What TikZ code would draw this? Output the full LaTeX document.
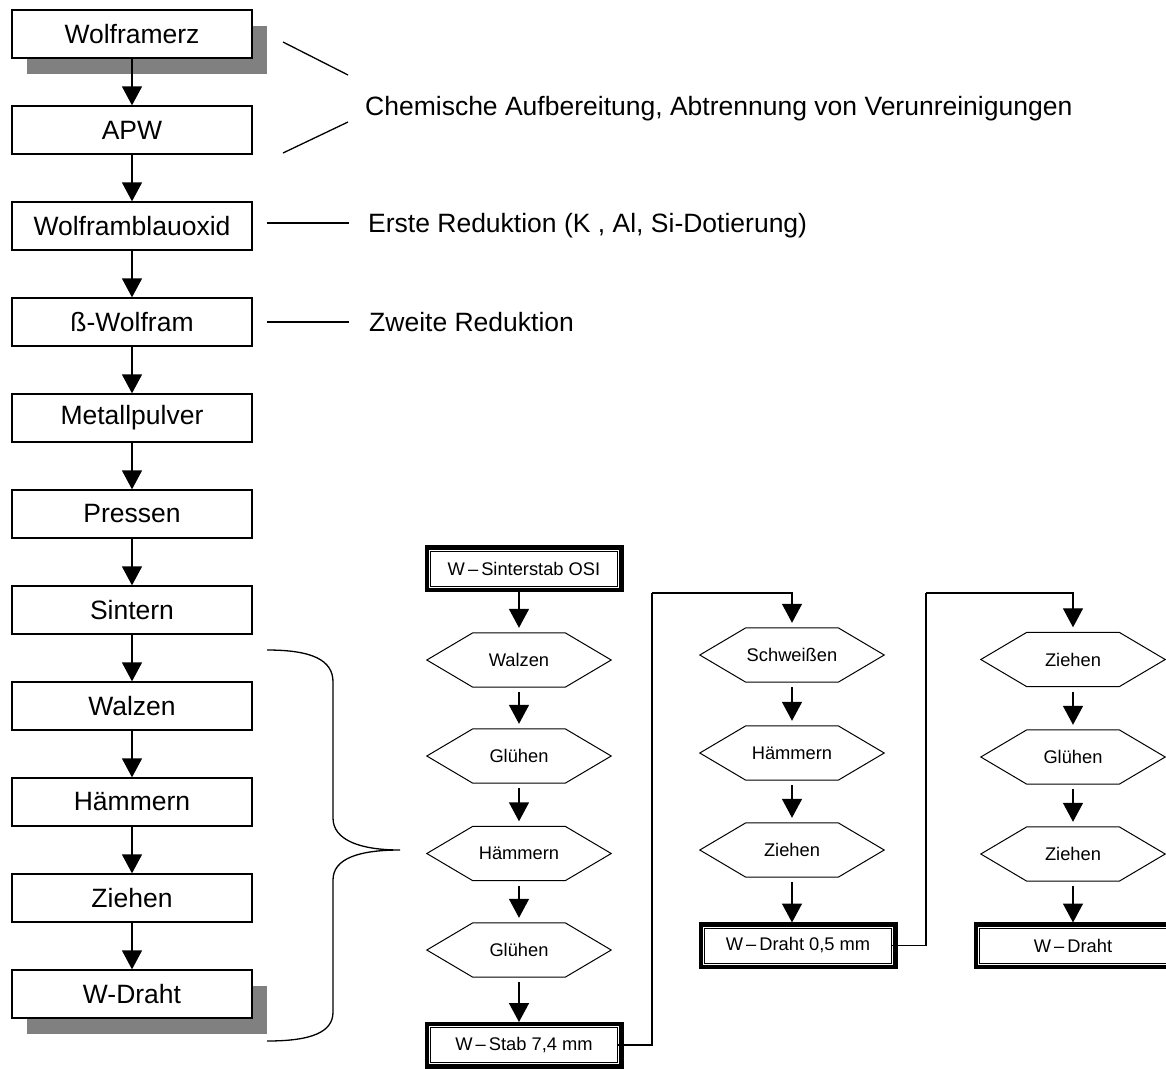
\documentclass[tikz,border=0pt]{standalone}
\usepackage{fontspec}
\setmainfont{Liberation Sans}
\usetikzlibrary{arrows.meta,shadows}
\newcommand{\hexdraw}[1]{\draw[line width=1pt] (#1.west) -- ([xshift=46pt]#1.north west) -- ([xshift=-46pt]#1.north east) -- (#1.east) -- ([xshift=-46pt]#1.south east) -- ([xshift=46pt]#1.south west) -- cycle;}
\begin{document}
\begin{tikzpicture}[x=1pt,y=-1pt,
  lbox/.style={draw, line width=1.3pt, fill=white, minimum width=240pt, minimum height=48pt, inner sep=0pt, font=\fontsize{26.5}{30}\selectfont},
  shad/.style={copy shadow={shadow xshift=15pt, shadow yshift=-16pt, fill=black!50, draw=none}},
  hexn/.style={minimum width=184pt, minimum height=54pt, inner sep=0pt, font=\fontsize{18.3}{22}\selectfont},
  dbox/.style={draw, line width=1pt, fill=white, minimum width=187pt, minimum height=35pt, inner sep=0pt, font=\fontsize{18.3}{22}\selectfont, preaction={draw=black, line width=12pt}, preaction={draw=white, line width=3pt}},
  arr/.style={line width=1.5pt, -{Triangle[width=20pt,length=19pt]}},
  sarr/.style={arr, shorten <=5pt, shorten >=5pt},
  conn/.style={line width=1.3pt},
  note/.style={anchor=base west, inner sep=0pt, font=\fontsize{26.5}{30}\selectfont}
]
\useasboundingbox (0,0) rectangle (1166,1068);

% left column
\node[lbox,shad] (b1) at (132,34) {Wolframerz};
\node[lbox] (b2) at (132,130) {APW};
\node[lbox] (b3) at (132,226) {Wolframblauoxid};
\node[lbox] (b4) at (132,322) {ß-Wolfram};
\node[lbox] (b5) at (132,418) {Metallpulver};
\node[lbox] (b6) at (132,514) {Pressen};
\node[lbox] (b7) at (132,610) {Sintern};
\node[lbox] (b8) at (132,706) {Walzen};
\node[lbox] (b9) at (132,802) {Hämmern};
\node[lbox] (b10) at (132,898) {Ziehen};
\node[lbox,shad] (b11) at (132,994) {W-Draht};
\foreach \i [evaluate=\i as \j using int(\i+1)] in {1,...,10}
  \draw[arr] (b\i.south) -- (b\j.north);

% annotations
\coordinate (l1a) at (283,42);  \coordinate (l1b) at (348,75);
\coordinate (l2a) at (283,153); \coordinate (l2b) at (348,122);
\draw[conn] (l1a) -- (l1b);
\draw[conn] (l2a) -- (l2b);
\node[note] (t1) at (365,115) {Chemische Aufbereitung, Abtrennung von Verunreinigungen};
\coordinate (l3a) at (267,223); \coordinate (l3b) at (349,223);
\draw[conn] (l3a) -- (l3b);
\node[note] (t2) at (368,232) {Erste Reduktion (K , Al, Si-Dotierung)};
\coordinate (l4a) at (267,322); \coordinate (l4b) at (349,322);
\draw[conn] (l4a) -- (l4b);
\node[note] (t3) at (369,331) {Zweite Reduktion};

% brace
\coordinate (bt) at (267,650);
\coordinate (tip) at (400,850);
\coordinate (bb) at (267,1041);
\draw[conn] (bt) .. controls (312,650) and (333,660) .. (333,682) -- (333,818)
  .. controls (333,840) and (360,850) .. (tip)
  .. controls (360,850) and (333,858) .. (333,880) -- (333,1012)
  .. controls (333,1032) and (312,1041) .. (bb);

% column 1
\node[dbox] (s1) at (524,568.5) {W\,–\,Sinterstab OSI};
\node[hexn] (h11) at (519,660) {Walzen}; \hexdraw{h11}
\node[hexn] (h12) at (519,756) {Glühen}; \hexdraw{h12}
\node[hexn] (h13) at (519,853.5) {Hämmern}; \hexdraw{h13}
\node[hexn] (h14) at (519,950) {Glühen}; \hexdraw{h14}
\node[dbox] (s2) at (524,1045) {W\,–\,Stab 7,4 mm};
\draw[sarr] (s1.south -| h11.north) -- (h11.north);
\draw[sarr] (h11.south) -- (h12.north);
\draw[sarr] (h12.south) -- (h13.north);
\draw[sarr] (h13.south) -- (h14.north);
\draw[sarr] (h14.south) -- (h14.south |- s2.north);

% column 2
\node[hexn] (h21) at (792,655) {Schweißen}; \hexdraw{h21}
\node[hexn] (h22) at (792,753) {Hämmern}; \hexdraw{h22}
\node[hexn] (h23) at (792,850) {Ziehen}; \hexdraw{h23}
\node[dbox] (s3) at (798,945.5) {W\,–\,Draht 0,5 mm};
\coordinate (k1) at (652,593);
\draw[conn] (s2.east) -| (k1);
\draw[conn,-{Triangle[width=20pt,length=19pt]},shorten >=5pt] (k1) -| (h21.north);
\draw[sarr] (h21.south) -- (h22.north);
\draw[sarr] (h22.south) -- (h23.north);
\draw[sarr] (h23.south) -- (h23.south |- s3.north);

% column 3
\node[hexn] (h31) at (1073,659.5) {Ziehen}; \hexdraw{h31}
\node[hexn] (h32) at (1073,757) {Glühen}; \hexdraw{h32}
\node[hexn] (h33) at (1073,854) {Ziehen}; \hexdraw{h33}
\node[dbox] (s4) at (1073,945.5) {W\,–\,Draht};
\coordinate (k2) at (926,593);
\draw[conn] (s3.east) -| (k2);
\draw[conn,-{Triangle[width=20pt,length=19pt]},shorten >=5pt] (k2) -| (h31.north);
\draw[sarr] (h31.south) -- (h32.north);
\draw[sarr] (h32.south) -- (h33.north);
\draw[sarr] (h33.south) -- (h33.south |- s4.north);
\end{tikzpicture}
\end{document}
